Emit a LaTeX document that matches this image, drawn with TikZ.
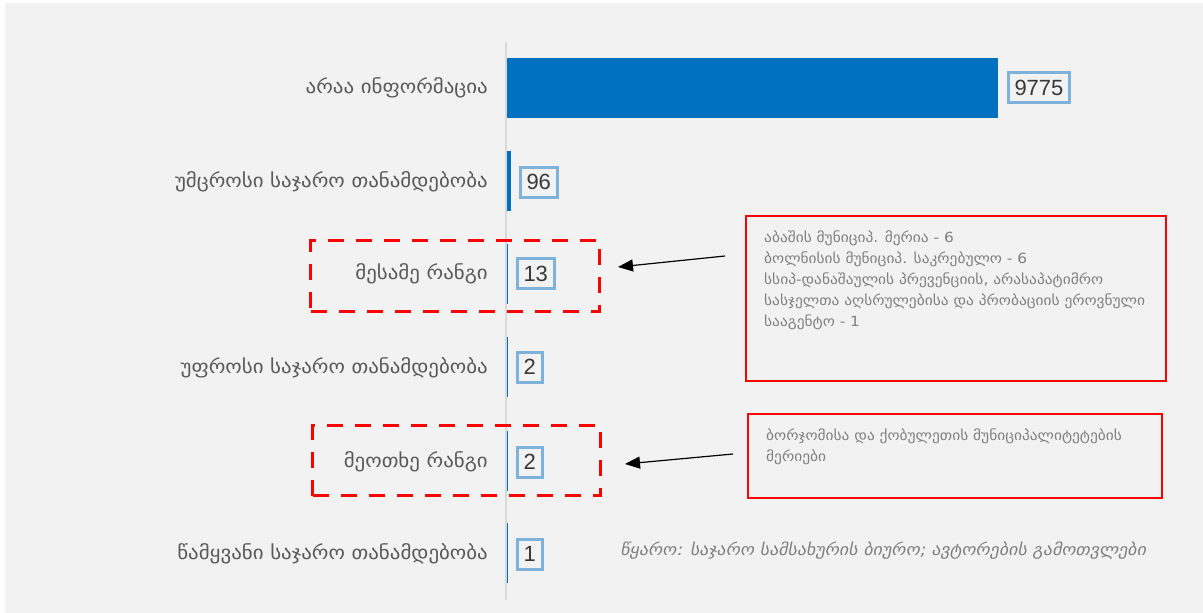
\documentclass[tikz,border=0pt]{standalone}
\usepackage{fontspec}
\setmainfont{Liberation Sans}
\newfontfamily\geo{DejaVu Sans}[FakeStretch=1.1]
\newfontfamily\geoit{DejaVu Sans}[FakeSlant=0.2,FakeStretch=1.1]
\usetikzlibrary{arrows.meta}
\definecolor{bg}{HTML}{F2F2F2}
\definecolor{barblue}{HTML}{0070C0}
\definecolor{valbox}{HTML}{7FB2DA}
\definecolor{labgray}{HTML}{595959}
\definecolor{notegray}{HTML}{7F7F7F}
\definecolor{axisgray}{HTML}{D9D9D9}
\definecolor{alertred}{HTML}{FF0000}
\tikzset{
  cat/.style={anchor=east, inner sep=0pt, text=labgray, font=\geo\fontsize{19}{22}\selectfont},
  valnode/.style={anchor=west, draw=valbox, line width=3pt, fill=bg, inner xsep=6.5pt, minimum height=30pt, text=black!78, font=\fontsize{22}{24}\selectfont},
  notebox/.style={draw=alertred, line width=1.5pt, anchor=north west, inner sep=0pt},
  notetext/.style={anchor=north west, inner sep=0pt, align=left, text=notegray, font=\geo\fontsize{14}{21}\selectfont},
  rankbox/.style={draw=alertred, line width=3pt, dash pattern=on 16pt off 12pt, anchor=north west, inner sep=0pt},
  callarrow/.style={-{Triangle[length=15pt,width=12pt]}, line width=1.2pt, black},
  bar/.style={fill=barblue}
}
\begin{document}
\begin{tikzpicture}[x=1pt,y=-1pt]
\useasboundingbox (0,0) rectangle (1203,613);
\fill[white] (0,0) rectangle (1203,613);
\fill[bg] (5,3) rectangle (1203,613);
% axis
\draw[axisgray, line width=2pt] (506,42) -- (506,600);
% bars
\fill[bar] (507,58) rectangle (998,118);
\fill[bar] (507,151) rectangle (511,211);
\fill[bar] (507,244) rectangle (508.2,304);
\fill[bar] (507,337) rectangle (508.2,397);
\fill[bar] (507,431) rectangle (508.2,491);
\fill[bar] (507,523) rectangle (508.2,583);
% category labels
\node[cat] (c1) at (488,88) {არაა ინფორმაცია};
\node[cat] (c2) at (488,182) {უმცროსი საჯარო თანამდებობა};
\node[cat] (c3) at (488,274) {მესამე რანგი};
\node[cat] (c4) at (488,368) {უფროსი საჯარო თანამდებობა};
\node[cat] (c5) at (488,462) {მეოთხე რანგი};
\node[cat] (c6) at (488,554) {წამყვანი საჯარო თანამდებობა};
% value labels
\node[valnode] (v1) at (1006.5,87.5) {9775};
\node[valnode] (v2) at (518.5,182) {96};
\node[valnode] (v3) at (515.5,273.5) {13};
\node[valnode] (v4) at (515.5,367) {2};
\node[valnode] (v5) at (515.5,462) {2};
\node[valnode] (v6) at (515.5,554) {1};
% dashed highlight boxes
\node[rankbox, minimum width=289pt, minimum height=71pt] (r3) at (309,239) {};
\node[rankbox, minimum width=288pt, minimum height=70pt] (r4) at (311,424) {};
% note boxes
\node[notebox, minimum width=420pt, minimum height=165pt] (n1) at (745,215) {};
\node[notetext] (t1) at (764,231) {აბაშის მუნიციპ. მერია - 6\\ბოლნისის მუნიციპ. საკრებულო - 6\\სსიპ-დანაშაულის პრევენციის, არასაპატიმრო\\სასჯელთა აღსრულებისა და პრობაციის ეროვნული\\სააგენტო - 1};
\node[notebox, minimum width=414pt, minimum height=84pt] (n2) at (747,413) {};
\node[notetext] (t2) at (766,429) {ბორჯომისა და ქობულეთის მუნიციპალიტეტების\\მერიები};
% arrows
\coordinate (a1s) at (725,256);
\coordinate (a1e) at (618,267);
\coordinate (a2s) at (733,454);
\coordinate (a2e) at (625,464);
\draw[callarrow] (a1s) -- (a1e);
\draw[callarrow] (a2s) -- (a2e);
% source
\node[anchor=west, inner sep=0pt, text=notegray, font=\geoit\fontsize{16.3}{19}\selectfont] (src) at (620,551) {წყარო: საჯარო სამსახურის ბიურო; ავტორების გამოთვლები};
\end{tikzpicture}
\end{document}
